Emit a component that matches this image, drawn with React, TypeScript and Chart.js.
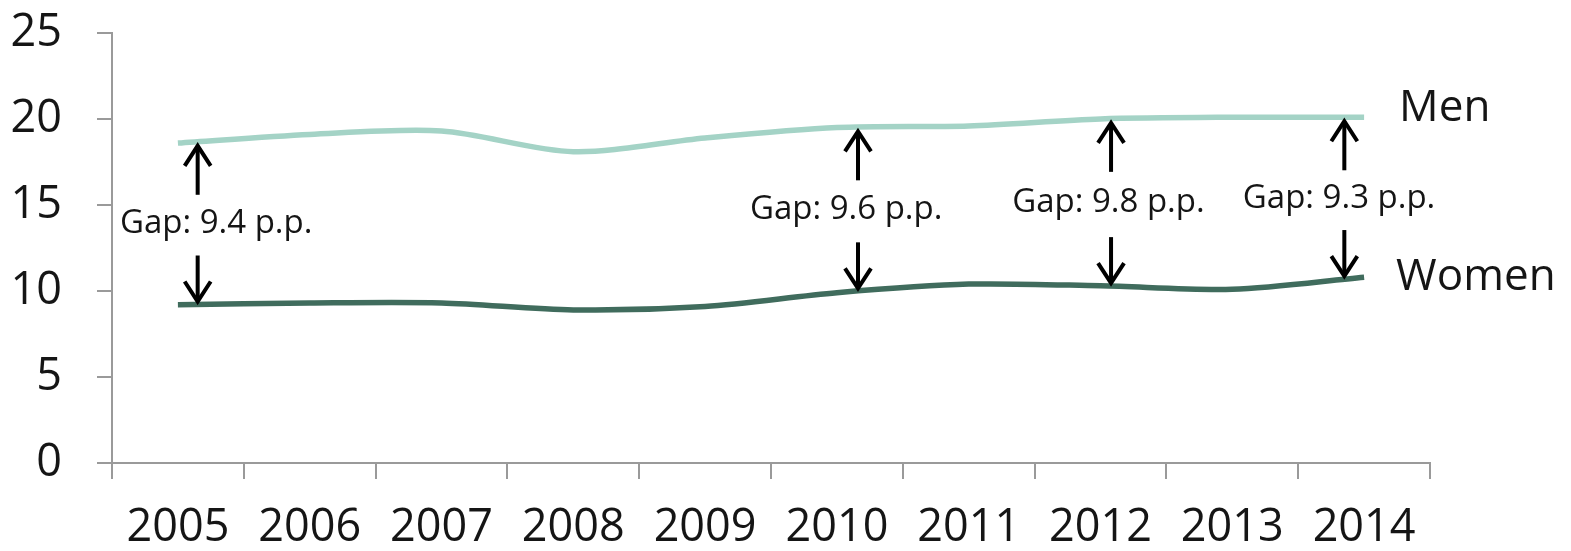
import React, { useEffect, useRef } from "react";
import { Chart, registerables } from "chart.js";

Chart.register(...registerables);

const years = ["2005", "2006", "2007", "2008", "2009", "2010", "2011", "2012", "2013", "2014"];
const menValues = [18.6, 19.1, 19.3, 18.1, 18.9, 19.5, 19.6, 20.0, 20.1, 20.1];
const womenValues = [9.2, 9.3, 9.3, 8.9, 9.1, 9.9, 10.4, 10.3, 10.1, 10.8];
const yTicks = [0, 5, 10, 15, 20, 25];

const gapYears = ["2005", "2010", "2012", "2014"];
const gapLabels = ["Gap: 9.4 p.p.", "Gap: 9.6 p.p.", "Gap: 9.8 p.p.", "Gap: 9.3 p.p."];
const gapArrowShift = [0.15, 0.16, 0.08, -0.15];
const gapTextShift = [0.14, -0.09, -0.02, -0.04];

const FONT = "'Open Sans', 'DejaVu Sans', sans-serif";
const MEN_COLOR = "#a4d3c6";
const WOMEN_COLOR = "#406c5d";
const AXIS_COLOR = "#9a9a9a";
const TEXT_COLOR = "#151515";

function valueAt(arr: number[], pos: number) {
  const i0 = Math.max(0, Math.min(arr.length - 1, Math.floor(pos)));
  const i1 = Math.min(arr.length - 1, i0 + 1);
  const t = pos - i0;
  return arr[i0] + (arr[i1] - arr[i0]) * t;
}

function drawArrow(ctx: CanvasRenderingContext2D, x: number, tipY: number, tailY: number) {
  const dir = tailY > tipY ? 1 : -1; // 1 => pointing up
  ctx.beginPath();
  ctx.moveTo(x, tailY);
  ctx.lineTo(x, tipY + dir * 1);
  ctx.stroke();
  ctx.beginPath();
  ctx.moveTo(x - 13, tipY + dir * 21);
  ctx.lineTo(x, tipY + dir * 1);
  ctx.lineTo(x + 13, tipY + dir * 21);
  ctx.stroke();
}

const annotationPlugin = {
  id: "gapAnnotations",
  afterDatasetsDraw(chart: any) {
    const ctx: CanvasRenderingContext2D = chart.ctx;
    const xs = chart.scales.x;
    const ys = chart.scales.y;
    ctx.save();
    ctx.strokeStyle = "#000";
    ctx.lineWidth = 4;
    ctx.lineCap = "butt";
    ctx.lineJoin = "miter";
    gapYears.forEach((yr, i) => {
      const idx = years.indexOf(yr);
      const pos = idx + gapArrowShift[i];
      const ax = xs.getPixelForValue(pos);
      const menY = ys.getPixelForValue(valueAt(menValues, pos));
      const womenY = ys.getPixelForValue(valueAt(womenValues, pos));
      const upTip = menY + 3;
      const upTail = upTip + 50;
      const downTip = womenY - 2;
      const downTail = downTip - 47;
      drawArrow(ctx, ax, upTip, upTail);
      drawArrow(ctx, ax, downTip, downTail);
      const tx = xs.getPixelForValue(idx + gapArrowShift[i] + gapTextShift[i]);
      ctx.fillStyle = TEXT_COLOR;
      ctx.font = `33px ${FONT}`;
      ctx.textAlign = "center";
      ctx.textBaseline = "middle";
      ctx.fillText(gapLabels[i], tx, (upTail + downTail) / 2 - 2);
    });
    // series labels
    const last = years.length - 1;
    const lx = xs.getPixelForValue(last) + 35;
    ctx.fillStyle = TEXT_COLOR;
    ctx.font = `44px ${FONT}`;
    ctx.textAlign = "left";
    ctx.textBaseline = "middle";
    ctx.fillText("Men", lx, ys.getPixelForValue(menValues[last]) - 9);
    ctx.fillText("Women", lx - 3, ys.getPixelForValue(womenValues[last]));
    ctx.restore();
  },
};

export default function App() {
  const ref = useRef<HTMLCanvasElement | null>(null);
  useEffect(() => {
    if (!ref.current) return;
    const chart = new Chart(ref.current, {
      type: "line",
      data: {
        labels: years,
        datasets: [
          {
            label: "Men",
            data: menValues,
            borderColor: MEN_COLOR,
            backgroundColor: MEN_COLOR,
            borderWidth: 5.5,
            pointRadius: 0,
            tension: 0.3,
            fill: false,
          },
          {
            label: "Women",
            data: womenValues,
            borderColor: WOMEN_COLOR,
            backgroundColor: WOMEN_COLOR,
            borderWidth: 5.5,
            pointRadius: 0,
            tension: 0.3,
            fill: false,
          },
        ],
      },
      options: {
        animation: false,
        responsive: true,
        maintainAspectRatio: false,
        layout: { padding: { left: 0, right: 141, top: 33, bottom: 0 } },
        plugins: {
          legend: { display: false },
          tooltip: { enabled: false },
          title: { display: false },
        },
        scales: {
          x: {
            type: "category",
            offset: true,
            grid: {
              offset: true,
              drawOnChartArea: false,
              drawTicks: true,
              tickLength: 16,
              color: AXIS_COLOR,
              lineWidth: 2,
            },
            border: { display: true, color: AXIS_COLOR, width: 2 },
            ticks: {
              font: { size: 45, family: FONT },
              color: TEXT_COLOR,
              padding: 22,
              maxRotation: 0,
              autoSkip: false,
            },
            afterFit: (s: any) => {
              s.height = 88;
              s.paddingLeft = 0;
              s.paddingRight = 0;
            },
          },
          y: {
            min: 0,
            max: 25,
            afterBuildTicks: (s: any) => {
              s.ticks = yTicks.map((v) => ({ value: v }));
            },
            grid: {
              drawOnChartArea: false,
              drawTicks: true,
              tickLength: 15,
              color: AXIS_COLOR,
              lineWidth: 2,
            },
            border: { display: true, color: AXIS_COLOR, width: 2 },
            ticks: {
              font: { size: 45, family: FONT },
              color: TEXT_COLOR,
              padding: 35,
            },
            afterFit: (s: any) => {
              s.width = 112;
              s.paddingTop = 0;
              s.paddingBottom = 0;
            },
          },
        },
      },
      plugins: [annotationPlugin],
    });
    return () => chart.destroy();
  }, []);
  return (
    <div style={{ position: "fixed", left: 0, top: 0, width: 1571, height: 551, background: "#fff" }}>
      <canvas ref={ref} />
    </div>
  );
}
